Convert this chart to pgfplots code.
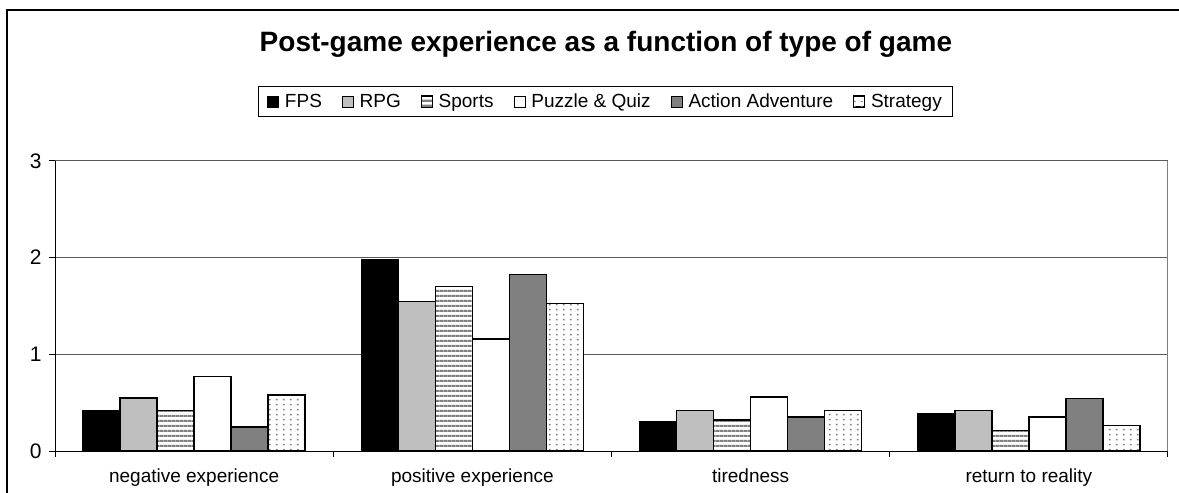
\documentclass[border=0pt]{standalone}
\usepackage{fontspec}
\setmainfont{Liberation Sans}
\usepackage{pgfplots}
\usepackage{pgfplotstable}
\pgfplotsset{compat=1.18}
\usetikzlibrary{patterns}
\pgfdeclarepatternformonly{hstripes}{\pgfqpoint{0pt}{0pt}}{\pgfqpoint{4pt}{5pt}}{\pgfqpoint{4pt}{5pt}}{\pgfsetlinewidth{2.4pt}\pgfpathmoveto{\pgfqpoint{-0.5pt}{2.5pt}}\pgfpathlineto{\pgfqpoint{4.5pt}{2.5pt}}\pgfusepath{stroke}}
\pgfdeclarepatternformonly{sdots}{\pgfqpoint{0pt}{0pt}}{\pgfqpoint{7.4pt}{5.2pt}}{\pgfqpoint{7.4pt}{5.2pt}}{\pgfpathrectangle{\pgfqpoint{3pt}{2pt}}{\pgfqpoint{1.9pt}{1.6pt}}\pgfusepath{fill}}

\pgfplotstableread{
x FPS RPG Sports Puzzle Action Strategy
0 0.42 0.55 0.42 0.77 0.25 0.58
1 1.98 1.545 1.70 1.16 1.825 1.525
2 0.30 0.42 0.32 0.56 0.35 0.42
3 0.39 0.42 0.21 0.35 0.545 0.265
}\datatable

\begin{document}
\begin{tikzpicture}
\path[use as bounding box] (0pt,0pt) rectangle (1179pt,493pt);
\draw[line width=1.2pt] (7pt,0pt) -- (7pt,483pt) -- (1179pt,483pt);
\begin{axis}[
  at={(55pt,42pt)}, anchor=south west,
  scale only axis, width=1113pt, height=290pt,
  ybar=0pt, bar width=37pt,
  xmin=-0.5, xmax=3.5, ymin=0, ymax=3,
  xtick={0,1,2,3},
  xticklabels={negative experience, positive experience, tiredness, return to reality},
  minor xtick={-0.5,0.5,1.5,2.5,3.5},
  ytick={0,1,2,3},
  axis x line*=bottom, axis y line*=left,
  axis line style={-, black, line width=1pt},
  tick align=outside,
  major tick length=6pt, minor tick length=6pt,
  major x tick style={draw=none},
  tick style={black, line width=1pt},
  ymajorgrids,
  major grid style={black!65, line width=1pt},
  /pgf/number format/assume math mode=true,
  yticklabel style={font=\fontsize{21}{24}\selectfont, xshift=-4pt},
  xticklabel style={font=\fontsize{19}{22}\selectfont, anchor=base, yshift=-26pt},
  title={Post-game experience as a function of type of game},
  title style={font=\fontsize{28}{33}\selectfont\bfseries, at={(0.495,1.3586)}, anchor=base},
  legend columns=6,
  legend style={at={(0.4946,1.205)}, anchor=center, draw=black, line width=1pt,
    font=\fontsize{19}{23}\selectfont, inner xsep=9pt, inner ysep=5pt,
    /tikz/every odd column/.append style={column sep=4pt},
    /tikz/every even column/.append style={column sep=18pt}},
  legend image code/.code={\draw[#1, line width=0.8pt] (0pt,-5.5pt) rectangle (11pt,5.5pt);},
  after end axis/.code={\draw[gray, line width=1pt] (rel axis cs:1,0) -- (rel axis cs:1,1);},
]
\addplot[draw=black, line width=1.5pt, fill=black] table[x=x, y=FPS] {\datatable};
\addplot[draw=black, line width=1.5pt, fill=black!25] table[x=x, y=RPG] {\datatable};
\addplot[draw=black, line width=1.5pt, preaction={fill=white}, pattern=hstripes, pattern color=gray] table[x=x, y=Sports] {\datatable};
\addplot[draw=black, line width=1.5pt, fill=white] table[x=x, y=Puzzle] {\datatable};
\addplot[draw=black, line width=1.5pt, fill=black!50] table[x=x, y=Action] {\datatable};
\addplot[draw=black, line width=1.5pt, preaction={fill=white}, pattern=sdots, pattern color=gray] table[x=x, y=Strategy] {\datatable};
\legend{FPS, RPG, Sports, Puzzle \& Quiz, Action Adventure, Strategy}
\end{axis}
\end{tikzpicture}
\end{document}
